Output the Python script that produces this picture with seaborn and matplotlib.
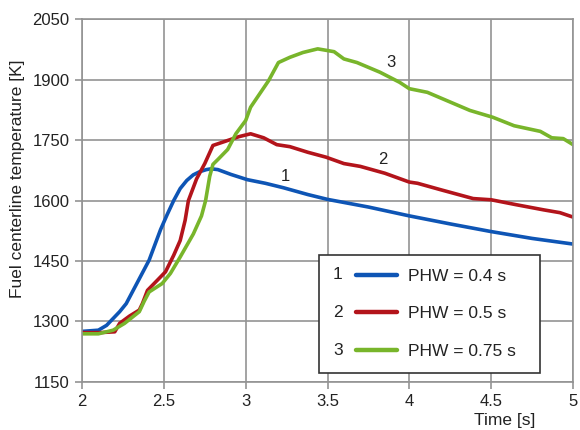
import numpy as np
import pandas as pd
import matplotlib
matplotlib.use("Agg")
import matplotlib.pyplot as plt
import seaborn as sns
from matplotlib.legend_handler import HandlerBase
from matplotlib.lines import Line2D
from matplotlib.text import Text

# ---- data ----
t1 = [2.0, 2.1, 2.15, 2.19, 2.23, 2.27, 2.34, 2.41, 2.48, 2.52, 2.56, 2.60, 2.64, 2.68,
      2.72, 2.76, 2.79, 2.83, 2.91, 3.01, 3.12, 3.23, 3.38, 3.5, 3.75, 4.0, 4.25, 4.5,
      4.75, 5.0]
T1 = [1275, 1278, 1290, 1307, 1324, 1344, 1398, 1452, 1528, 1565, 1600, 1630, 1650, 1664,
      1672, 1677, 1679, 1677, 1665, 1652, 1643, 1632, 1615, 1603, 1584, 1562, 1542, 1523,
      1506, 1492]

t2 = [2.0, 2.11, 2.2, 2.23, 2.29, 2.35, 2.37, 2.40, 2.46, 2.51, 2.56, 2.60, 2.63, 2.65,
      2.70, 2.75, 2.80, 2.88, 2.96, 3.03, 3.11, 3.19, 3.27, 3.38, 3.49, 3.6, 3.7, 3.85,
      4.0, 4.05, 4.2, 4.39, 4.5, 4.65, 4.82, 4.92, 5.0]
T2 = [1272, 1272, 1274, 1295, 1313, 1328, 1345, 1377, 1402, 1423, 1464, 1501, 1551, 1600,
      1654, 1692, 1737, 1748, 1759, 1766, 1756, 1739, 1734, 1720, 1708, 1692, 1685, 1668,
      1646, 1643, 1626, 1605, 1602, 1590, 1577, 1570, 1559]

t3 = [2.0, 2.1, 2.19, 2.26, 2.35, 2.38, 2.41, 2.49, 2.54, 2.60, 2.68, 2.73, 2.755, 2.78,
      2.80, 2.83, 2.89, 2.94, 3.0, 3.03, 3.14, 3.20, 3.27, 3.35, 3.44, 3.54, 3.60, 3.68,
      3.82, 3.94, 4.0, 4.11, 4.37, 4.51, 4.64, 4.80, 4.87, 4.94, 5.0]
T3 = [1269, 1269, 1278, 1295, 1324, 1350, 1373, 1394, 1419, 1460, 1517, 1562, 1600, 1660,
      1690, 1702, 1727, 1766, 1799, 1832, 1898, 1943, 1956, 1968, 1977, 1970, 1952, 1943,
      1919, 1894, 1878, 1869, 1824, 1807, 1786, 1772, 1756, 1754, 1739]

series_names = ["PHW = 0.4 s", "PHW = 0.5 s", "PHW = 0.75 s"]
series_nums = ["1", "2", "3"]
colors = ["#0e55b5", "#b3141b", "#78b52b"]

x_ticks = [2, 2.5, 3, 3.5, 4, 4.5, 5]
x_tick_labels = ["2", "2.5", "3", "3.5", "4", "4.5", "5"]
y_ticks = [1150, 1300, 1450, 1600, 1750, 1900, 2050]

# curve annotations (number label positions)
ann_nums = ["1", "2", "3"]
ann_x = [3.24, 3.84, 3.89]
ann_y = [1660, 1703, 1943]

df = pd.concat([
    pd.DataFrame({"Time": t1, "Temp": T1, "series": series_names[0]}),
    pd.DataFrame({"Time": t2, "Temp": T2, "series": series_names[1]}),
    pd.DataFrame({"Time": t3, "Temp": T3, "series": series_names[2]}),
])

sns.set_theme(style="white")
plt.rcParams["font.family"] = ["Liberation Sans", "DejaVu Sans"]

fig = plt.figure(figsize=(5.8, 4.3), dpi=100)
ax = fig.add_axes([0.1414, 0.1123, 0.8466, 0.8424])

sns.lineplot(data=df, x="Time", y="Temp", hue="series", palette=colors,
             estimator=None, sort=False, linewidth=2.6, legend=False, ax=ax)

ax.set_xlim(2, 5)
ax.set_ylim(1150, 2050)
ax.set_xticks(x_ticks)
ax.set_xticklabels(x_tick_labels)
ax.set_yticks(y_ticks)
ax.grid(True, color="#939393", linewidth=1.2)
ax.set_axisbelow(True)
for s in ax.spines.values():
    s.set_color("#939393")
    s.set_linewidth(1.2)
ax.tick_params(axis="both", which="major", labelsize=12, colors="#939393",
               labelcolor="#222222", length=5, width=1.2, pad=4, bottom=True, left=True)

ax.set_ylabel("Fuel centerline temperature [K]", fontsize=12.5, color="#222222")
ax.yaxis.set_label_coords(-0.116, 0.56)
ax.set_xlabel("Time [s]", fontsize=12.5, color="#222222")
ax.xaxis.set_label_coords(0.861, -0.085)

for n, xx, yy in zip(ann_nums, ann_x, ann_y):
    ax.text(xx, yy, n, fontsize=12, color="#222222", ha="center", va="center")


class NumLineHandler(HandlerBase):
    def __init__(self, num, color):
        super().__init__()
        self.num = num
        self.color = color

    def create_artists(self, legend, orig_handle, xdescent, ydescent, width, height,
                       fontsize, trans):
        y = height / 2 - ydescent
        t = Text(x=-xdescent, y=y, text=self.num, ha="left", va="center",
                 fontsize=fontsize, color="#222222", transform=trans)
        l = Line2D([-xdescent + 0.36 * width, -xdescent + width], [y, y],
                   color=self.color, linewidth=3.2, transform=trans)
        return [t, l]


lines = ax.get_lines()[:3]
hmap = {ln: NumLineHandler(n, c) for ln, n, c in zip(lines, series_nums, colors)}
leg = ax.legend(lines, series_names, handler_map=hmap, loc="lower left",
                bbox_to_anchor=(0.483, 0.024, 0.45, 0.323), mode="expand",
                fontsize=12.5, frameon=True,
                fancybox=False, edgecolor="#333333", framealpha=1,
                handlelength=3.7, handletextpad=0.6, labelspacing=1.3,
                borderpad=0.8, borderaxespad=0)
leg.get_frame().set_linewidth(1.2)
for txt in leg.get_texts():
    txt.set_color("#222222")

fig.savefig("out.png", dpi=100)
